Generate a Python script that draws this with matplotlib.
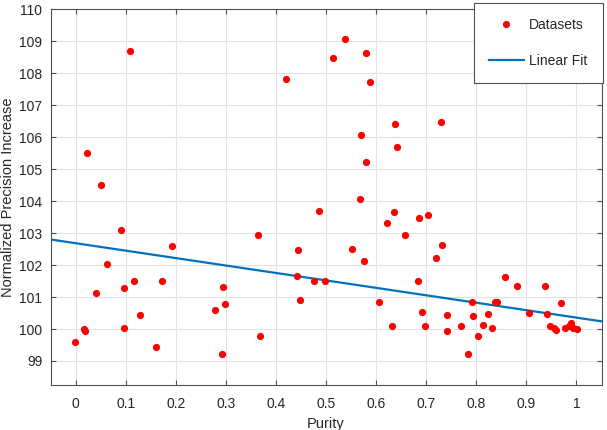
import matplotlib.pyplot as plt

plt.rcParams['font.family'] = ['Liberation Sans', 'DejaVu Sans']

# Scatter points (purity, normalized precision increase)
purity = [-0.001, 0.017, 0.019, 0.023, 0.040, 0.051, 0.063, 0.091, 0.096, 0.097,
          0.108, 0.116, 0.129, 0.161, 0.173, 0.193, 0.279, 0.292, 0.294, 0.299,
          0.364, 0.367, 0.419, 0.442, 0.443, 0.447, 0.475, 0.485, 0.497, 0.513,
          0.537, 0.552, 0.568, 0.570, 0.575, 0.579, 0.580, 0.588, 0.606, 0.621,
          0.631, 0.636, 0.637, 0.642, 0.658, 0.683, 0.685, 0.691, 0.697, 0.704,
          0.719, 0.729, 0.731, 0.741, 0.741, 0.769, 0.783, 0.791, 0.793, 0.803,
          0.813, 0.824, 0.831, 0.837, 0.841, 0.857, 0.881, 0.905, 0.938, 0.942,
          0.948, 0.955, 0.959, 0.969, 0.977, 0.985, 0.990, 0.993, 1.001]
precision = [99.60, 100.00, 99.95, 105.51, 101.12, 104.51, 102.03, 103.10, 101.28, 100.04,
             108.68, 101.51, 100.45, 99.45, 101.50, 102.60, 100.61, 99.21, 101.31, 100.78,
             102.94, 99.77, 107.83, 101.65, 102.47, 100.90, 101.49, 103.69, 101.49, 108.48,
             109.08, 102.51, 104.06, 106.08, 102.12, 105.21, 108.64, 107.74, 100.84, 103.33,
             100.10, 103.66, 106.41, 105.70, 102.94, 101.49, 103.47, 100.52, 100.09, 103.56,
             102.21, 106.47, 102.63, 100.45, 99.93, 100.10, 99.21, 100.84, 100.40, 99.78,
             100.14, 100.48, 100.02, 100.83, 100.84, 101.63, 101.36, 100.51, 101.33, 100.46,
             100.11, 100.04, 99.97, 100.80, 100.02, 100.11, 100.19, 100.03, 100.01]

# Linear fit end points (at the x-limits)
fit_x = [-0.05, 1.05]
fit_y = [102.80, 100.24]

x_ticks = [0, 0.1, 0.2, 0.3, 0.4, 0.5, 0.6, 0.7, 0.8, 0.9, 1]
x_tick_labels = ['0', '0.1', '0.2', '0.3', '0.4', '0.5', '0.6', '0.7', '0.8', '0.9', '1']
y_ticks = list(range(99, 111))

text_color = '#262626'
axis_color = '#505050'

fig = plt.figure(figsize=(6.07, 4.30), dpi=100)
ax = fig.add_axes([0.0835, 0.1047, 0.9075, 0.8737])

ax.plot(purity, precision, 'o', color='#ff0000', markersize=5.2,
        markeredgewidth=0, label='Datasets', zorder=3)
ax.plot(fit_x, fit_y, '-', color='#0072bd', linewidth=1.6, label='Linear Fit', zorder=2)

ax.set_xlim(-0.05, 1.05)
ax.set_ylim(98.25, 110)
ax.set_xticks(x_ticks)
ax.set_xticklabels(x_tick_labels)
ax.set_yticks(y_ticks)

ax.grid(True, color='#e2e2e2', linewidth=0.8)
ax.set_axisbelow(True)

ax.tick_params(direction='in', length=3.6, width=0.8, colors=axis_color,
               labelcolor=text_color, labelsize=10, top=True, right=True)
ax.tick_params(axis='x', pad=9)
ax.tick_params(axis='y', pad=6)
for s in ax.spines.values():
    s.set_color(axis_color)
    s.set_linewidth(0.8)

ax.set_xlabel('Purity', fontsize=10.5, color=text_color, labelpad=4)
ax.set_ylabel('Normalized Precision Increase', fontsize=10.5, color=text_color, labelpad=3)

leg = ax.legend(loc='upper right', bbox_to_anchor=(602.7 / 607, 1 - 2.7 / 430),
                bbox_transform=fig.transFigure, borderaxespad=0, borderpad=1.1,
                labelspacing=1.55, handlelength=2.5, handletextpad=0.4,
                fontsize=10, fancybox=False, framealpha=1)
leg.get_frame().set_edgecolor(axis_color)
leg.get_frame().set_linewidth(0.8)
for t in leg.get_texts():
    t.set_color(text_color)

fig.savefig('out.png', dpi=100)
